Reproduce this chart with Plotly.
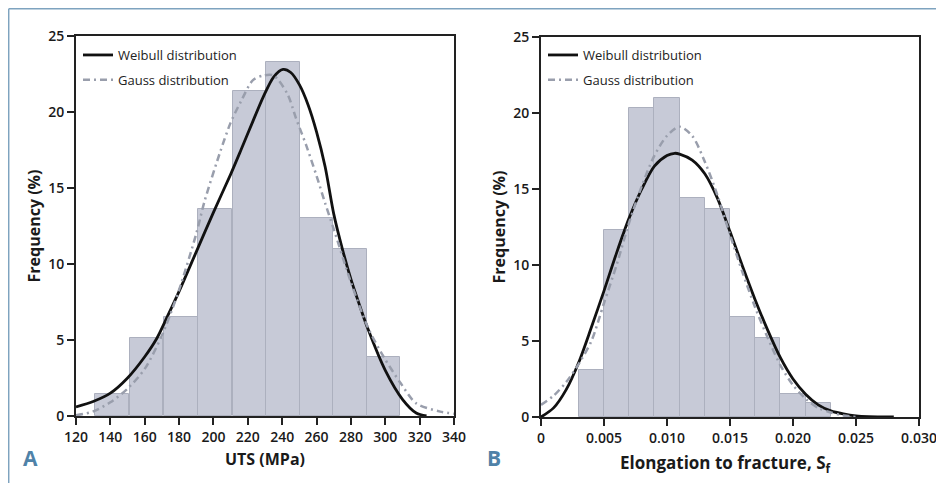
import plotly.graph_objects as go

W, H = 944, 483
PAGE_OFFSET = 8  # browser body margin

# ---------------- Panel A data (UTS) ----------------
uts_bin_centers = [141, 161, 181, 201, 221, 240.5, 260, 279.5, 299]
uts_freq = [1.45, 5.1, 6.5, 13.6, 21.4, 23.3, 13.0, 11.0, 3.85]
uts_bin_width = 19.7

uts_weib_x = [120, 130, 140, 150, 160, 167, 173, 180, 190, 200, 210, 216, 223, 229, 235, 240.5, 245, 250, 255, 260, 265, 270, 275, 280, 285, 290, 300, 310, 318, 324]
uts_weib_y = [0.6, 0.95, 1.5, 2.5, 3.9, 5.1, 6.5, 8.2, 10.8, 13.4, 15.9, 17.5, 19.4, 21.0, 22.3, 22.8, 22.6, 21.8, 20.5, 18.7, 16.4, 13.3, 11.0, 9.0, 7.3, 5.7, 3.0, 1.1, 0.2, 0.0]

uts_gauss_x = [120, 130, 140, 150, 160, 170, 180, 190, 195, 204, 210, 216, 223, 229, 235, 243, 248, 254, 260, 265, 270, 280, 290, 299, 309, 318, 332, 340]
uts_gauss_y = [0.05, 0.3, 0.9, 1.8, 3.1, 5.3, 8.3, 12.0, 14.2, 17.4, 19.3, 20.7, 22.1, 22.4, 22.4, 21.2, 19.6, 17.8, 15.8, 14.0, 12.3, 8.8, 5.8, 3.9, 2.15, 0.83, 0.29, 0.15]

uts_ticks = [120, 140, 160, 180, 200, 220, 240, 260, 280, 300, 320, 340]

# ---------------- Panel B data (elongation) ----------------
el_bin_centers = [0.004, 0.006, 0.008, 0.010, 0.012, 0.014, 0.016, 0.018, 0.020, 0.022]
el_freq = [3.07, 12.3, 20.3, 21.0, 14.4, 13.7, 6.6, 5.2, 1.5, 0.9]
el_bin_width = 0.002

el_weib_x = [0, 0.001, 0.002, 0.003, 0.004, 0.005, 0.006, 0.007, 0.008, 0.009, 0.010, 0.0106, 0.011, 0.012, 0.013, 0.014, 0.015, 0.016, 0.017, 0.018, 0.019, 0.020, 0.021, 0.022, 0.023, 0.024, 0.025, 0.026, 0.028]
el_weib_y = [0, 0.6, 1.8, 3.6, 5.9, 8.3, 10.8, 13.1, 15.0, 16.5, 17.2, 17.35, 17.3, 16.9, 16.0, 14.4, 12.2, 9.9, 7.7, 5.7, 3.9, 2.5, 1.5, 0.8, 0.4, 0.2, 0.07, 0.02, 0.0]

el_gauss_x = [0, 0.001, 0.002, 0.003, 0.004, 0.005, 0.006, 0.007, 0.008, 0.009, 0.010, 0.011, 0.012, 0.013, 0.014, 0.015, 0.016, 0.017, 0.018, 0.019, 0.020, 0.021, 0.022, 0.023, 0.024, 0.025]
el_gauss_y = [0.8, 1.4, 2.3, 3.5, 5.0, 7.5, 10.0, 12.8, 15.2, 17.2, 18.5, 19.1, 18.5, 16.8, 14.6, 12.0, 9.5, 7.2, 5.2, 3.4, 2.1, 1.2, 0.6, 0.3, 0.1, 0.0]

el_tickvals = [0, 0.005, 0.010, 0.015, 0.020, 0.025, 0.030]
el_ticktext = ["0", "0.005", "0.010", "0.015", "0.020", "0.025", "0.030"]

freq_ticks = [0, 5, 10, 15, 20, 25]

# ---------------- styles ----------------
BAR_COLOR = "#c7cad7"
BAR_LINE = "#acb0be"
WEIB_COLOR = "#111111"
GAUSS_COLOR = "#999eac"
ACCENT = "#4f82a8"
FONT = "Open Sans"
GAUSS_DASH = "7px,4px,2px,4px"


def px(x):
    return (x - PAGE_OFFSET) / W


def py(y):
    return 1 - (y - PAGE_OFFSET) / H


fig = go.Figure()

fig.add_trace(go.Bar(x=uts_bin_centers, y=uts_freq, width=uts_bin_width,
                     marker=dict(color=BAR_COLOR, line=dict(color=BAR_LINE, width=1)),
                     showlegend=False, xaxis="x", yaxis="y"))
fig.add_trace(go.Scatter(x=uts_weib_x, y=uts_weib_y, mode="lines", name="Weibull distribution",
                         line=dict(color=WEIB_COLOR, width=2.8, shape="spline", smoothing=0.8),
                         xaxis="x", yaxis="y", legend="legend", legendgroup="w1"))
fig.add_trace(go.Scatter(x=uts_gauss_x, y=uts_gauss_y, mode="lines", name="Gauss distribution",
                         line=dict(color=GAUSS_COLOR, width=2.5, dash=GAUSS_DASH, shape="spline", smoothing=0.8),
                         xaxis="x", yaxis="y", legend="legend", legendgroup="g1"))

fig.add_trace(go.Bar(x=el_bin_centers, y=el_freq, width=el_bin_width,
                     marker=dict(color=BAR_COLOR, line=dict(color=BAR_LINE, width=1)),
                     showlegend=False, xaxis="x2", yaxis="y2"))
fig.add_trace(go.Scatter(x=el_weib_x, y=el_weib_y, mode="lines", name="Weibull distribution",
                         line=dict(color=WEIB_COLOR, width=2.8, shape="spline", smoothing=0.8),
                         xaxis="x2", yaxis="y2", legend="legend2", legendgroup="w2"))
fig.add_trace(go.Scatter(x=el_gauss_x, y=el_gauss_y, mode="lines", name="Gauss distribution",
                         line=dict(color=GAUSS_COLOR, width=2.5, dash=GAUSS_DASH, shape="spline", smoothing=0.8),
                         xaxis="x2", yaxis="y2", legend="legend2", legendgroup="g2"))

axis_common = dict(showline=True, linecolor="#222222", linewidth=2, mirror=True,
                   ticks="outside", ticklen=7, tickwidth=2, tickcolor="#222222",
                   showgrid=False, zeroline=False, automargin=False,
                   tickfont=dict(family=FONT, size=14, color="#1a1a1a", weight=600))

ytitle_font = dict(family=FONT, size=16, color="#1a1a1a")

fig.update_layout(
    width=W, height=H,
    margin=dict(l=0, r=0, t=0, b=0, autoexpand=False),
    paper_bgcolor="white", plot_bgcolor="white",
    bargap=0,
    font=dict(family=FONT, color="#222222"),
    xaxis=dict(domain=[px(76), px(454)], range=[120, 340], tickvals=uts_ticks, anchor="y", **axis_common),
    yaxis=dict(domain=[py(416), py(36)], range=[0, 25], tickvals=freq_ticks, anchor="x",
               title=dict(text="<b>Frequency (%)</b>", font=ytitle_font, standoff=4), **axis_common),
    xaxis2=dict(domain=[px(541), px(919)], range=[0, 0.030], tickvals=el_tickvals, ticktext=el_ticktext,
                anchor="y2", **axis_common),
    yaxis2=dict(domain=[py(417), py(37)], range=[0, 25], tickvals=freq_ticks, anchor="x2",
                title=dict(text="<b>Frequency (%)</b>", font=ytitle_font, standoff=4), **axis_common),
    legend=dict(x=px(78), y=py(40), xanchor="left", yanchor="top", bgcolor="rgba(0,0,0,0)",
                font=dict(family=FONT, size=13, color="#222222"), tracegroupgap=5, itemwidth=30),
    legend2=dict(x=px(543), y=py(40), xanchor="left", yanchor="top", bgcolor="rgba(0,0,0,0)",
                 font=dict(family=FONT, size=13, color="#222222"), tracegroupgap=5, itemwidth=30),
    shapes=[
        dict(type="line", xref="paper", yref="paper", x0=px(8.7), x1=1, y0=py(8.7), y1=py(8.7),
             line=dict(color="#7ea3bf", width=1.5)),
        dict(type="line", xref="paper", yref="paper", x0=px(8.7), x1=px(8.7), y0=0, y1=py(8.7),
             line=dict(color="#7ea3bf", width=1.5)),
    ],
    annotations=[
        dict(text="<b>UTS (MPa)</b>", xref="paper", yref="paper", x=px(265), y=py(459),
             xanchor="center", yanchor="middle", showarrow=False,
             font=dict(family=FONT, size=16, color="#1a1a1a")),
        dict(text="<b>Elongation to fracture, S<sub>f</sub></b>", xref="paper", yref="paper",
             x=px(726), y=py(463), xanchor="center", yanchor="middle", showarrow=False,
             font=dict(family=FONT, size=17, color="#1a1a1a")),
        dict(text="<b>A</b>", xref="paper", yref="paper", x=px(30), y=py(458),
             xanchor="center", yanchor="middle", showarrow=False,
             font=dict(family=FONT, size=21, color=ACCENT)),
        dict(text="<b>B</b>", xref="paper", yref="paper", x=px(494), y=py(458),
             xanchor="center", yanchor="middle", showarrow=False,
             font=dict(family=FONT, size=21, color=ACCENT)),
    ],
)

fig.write_html("out.html")
